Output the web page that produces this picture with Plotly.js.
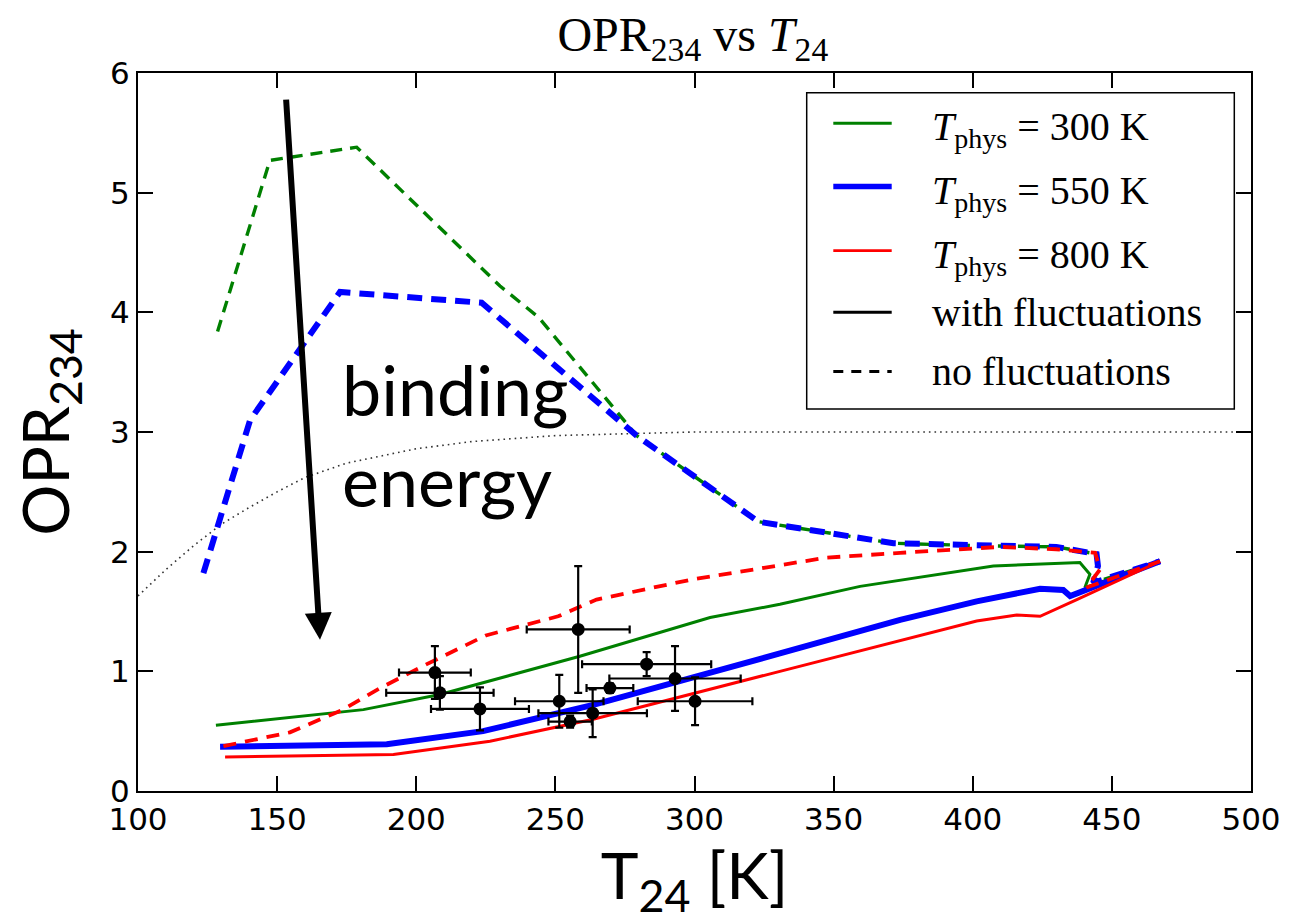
<!DOCTYPE html>
<html>
<head>
<meta charset="utf-8">
<script src="https://cdn.plot.ly/plotly-3.0.1.min.js"></script>
<style>html,body{margin:0;padding:0;background:#fff;}#chart{width:1295px;height:922px;}</style>
</head>
<body>
<div id="chart"></div>
<script>
// ---- data ----
// with fluctuations (solid)
const g300_x = [128, 181, 208.5, 258.8, 305.6, 330.7, 359.5, 401.4, 407.4, 438.5, 442.1, 440.3, 467.3];
const g300_y = [0.55, 0.68, 0.806, 1.126, 1.45, 1.56, 1.71, 1.86, 1.88, 1.91, 1.81, 1.70, 1.92];
const b550_x = [129.5, 189.4, 224, 263.6, 330.7, 373.9, 401.4, 424.2, 432.5, 435, 467.3];
const b550_y = [0.37, 0.39, 0.50, 0.72, 1.15, 1.43, 1.585, 1.69, 1.68, 1.63, 1.92];
const r800_x = [131.3, 191.8, 226.5, 263.6, 330.7, 401.4, 415.8, 424.2, 437.4, 467.3];
const r800_y = [0.285, 0.305, 0.416, 0.60, 1.0, 1.42, 1.47, 1.46, 1.6, 1.92];
// no fluctuations (dashed)
const g300d_x = [128.6, 147.4, 178.6, 230.1, 243.9, 279.2, 323, 371.5, 401.4, 430, 444.5, 445, 443.3, 467.3];
const g300d_y = [3.84, 5.27, 5.38, 4.22, 3.96, 2.97, 2.25, 2.07, 2.05, 2.04, 1.98, 1.88, 1.74, 1.92];
const b550d_x = [123.5, 140.3, 172.6, 223.5, 279.2, 323, 371.5, 401.4, 430, 444.5, 445, 443.3, 467.3];
const b550d_y = [1.82, 3.10, 4.17, 4.08, 2.97, 2.25, 2.07, 2.05, 2.04, 1.98, 1.88, 1.74, 1.92];
const r800d_x = [130.7, 154.6, 173.7, 187, 203.8, 225, 251, 264.8, 299.6, 347.5, 373.9, 409.8, 430, 444, 445.7, 440.9, 467.3];
const r800d_y = [0.375, 0.49, 0.68, 0.86, 1.06, 1.30, 1.46, 1.6, 1.77, 1.95, 1.99, 2.04, 2.02, 1.99, 1.85, 1.70, 1.92];
// dotted reference curve
const dot_x = [100, 110, 120, 130, 140, 150, 160, 175, 200, 220, 250, 280, 300, 500];
const dot_y = [1.63, 1.85, 2.05, 2.23, 2.37, 2.50, 2.62, 2.74, 2.86, 2.92, 2.97, 2.99, 3.0, 3.0];
// observations
const obs_x  = [206.7, 208.5, 222.9, 251.4, 255.3, 258.2, 263.4, 269.6, 282.8, 293.0, 300.2];
const obs_y  = [0.99, 0.82, 0.686, 0.75, 0.58, 1.35, 0.65, 0.86, 1.06, 0.94, 0.75];
const obs_ex = [12.9, 19.3, 17.6, 15.9, 7.8, 18.5, 19.5, 8.4, 23.2, 23.6, 20.6];
const obs_ey = [0.22, 0.14, 0.18, 0.22, 0.05, 0.53, 0.20, 0.04, 0.10, 0.27, 0.20];
// arrow (binding energy)
const arrow_from = [153.2, 5.79];
const arrow_to = [165.4, 1.264];
// ticks
const xTicks = [100, 150, 200, 250, 300, 350, 400, 450, 500];
const yTicks = [0, 1, 2, 3, 4, 5, 6];
// legend
const legendLabels = ['<i>T</i><sub>phys</sub> = 300 K', '<i>T</i><sub>phys</sub> = 550 K', '<i>T</i><sub>phys</sub> = 800 K', 'with fluctuations', 'no fluctuations'];
const legendColors = ['#008000', '#0000ff', '#ff0000', '#000000', '#000000'];
const legendWidths = [2.8, 5.5, 2.8, 3, 3];
const legendDash = ['solid', 'solid', 'solid', 'solid', 'dash'];

const GREEN = '#008000', BLUE = '#0000ff', RED = '#ff0000';

const traces = [
  {x: dot_x, y: dot_y, mode: 'lines', line: {color: '#333', width: 1.6, dash: '1.6px,4px'}, showlegend: false, hoverinfo: 'skip'},
  {x: g300_x, y: g300_y, mode: 'lines', line: {color: GREEN, width: 3}, showlegend: false},
  {x: g300d_x, y: g300d_y, mode: 'lines', line: {color: GREEN, width: 3.4, dash: '12px,8px'}, showlegend: false},
  {x: b550_x, y: b550_y, mode: 'lines', line: {color: BLUE, width: 6}, showlegend: false},
  {x: b550d_x, y: b550d_y, mode: 'lines', line: {color: BLUE, width: 6, dash: '15px,9px'}, showlegend: false},
  {x: r800_x, y: r800_y, mode: 'lines', line: {color: RED, width: 3}, showlegend: false},
  {x: r800d_x, y: r800d_y, mode: 'lines', line: {color: RED, width: 3.8, dash: '13px,9px'}, showlegend: false},
  {x: obs_x, y: obs_y, mode: 'markers', marker: {color: 'black', size: 13},
   error_x: {type: 'data', array: obs_ex, visible: true, color: 'black', thickness: 2.2, width: 4},
   error_y: {type: 'data', array: obs_ey, visible: true, color: 'black', thickness: 2.2, width: 4},
   showlegend: false}
];

// custom legend (paper coordinates)
const pxX = p => (p - 138) / 1113;
const pxY = p => (791.5 - p) / 718.5;
const rowY = [123.3, 186.7, 250.7, 312.3, 371.7];
const shapes = [
  {type: 'rect', xref: 'paper', yref: 'paper', x0: pxX(806.7), x1: pxX(1234.3), y0: pxY(409.3), y1: pxY(92.7),
   line: {color: 'black', width: 1.5}, fillcolor: 'white', layer: 'above'}
];
const annotations = [];
legendLabels.forEach((lab, i) => {
  shapes.push({type: 'line', xref: 'paper', yref: 'paper', x0: pxX(833.3), x1: pxX(891.7), y0: pxY(rowY[i]), y1: pxY(rowY[i]),
    line: {color: legendColors[i], width: legendWidths[i], dash: legendDash[i] === 'dash' ? '10px,8px' : 'solid'}, layer: 'above'});
  annotations.push({xref: 'paper', yref: 'paper', x: pxX(930), y: pxY(rowY[i] + (i < 3 ? 6 : 0)), xanchor: 'left', yanchor: 'middle',
    text: lab, showarrow: false, font: {family: 'Liberation Serif, serif', size: 40, color: 'black'}});
});
annotations.push({x: arrow_to[0], y: arrow_to[1], ax: arrow_from[0], ay: arrow_from[1], axref: 'x', ayref: 'y', xref: 'x', yref: 'y',
  text: '', showarrow: true, arrowhead: 2, arrowsize: 0.9, arrowwidth: 6, arrowcolor: 'black', standoff: 0, startstandoff: 0});
annotations.push({x: 172.6, y: 2.98, xref: 'x', yref: 'y', xanchor: 'left', yanchor: 'middle', align: 'left',
  text: 'binding<br>energy', showarrow: false, font: {family: 'Lato, sans-serif', size: 70, color: 'black'}});

const layout = {
  width: 1295, height: 922,
  paper_bgcolor: 'white', plot_bgcolor: 'white',
  margin: {l: 138, r: 44, t: 73, b: 131},
  showlegend: false,
  title: {text: 'OPR<sub>234</sub> vs <i>T</i><sub>24</sub>', font: {family: 'Liberation Serif, serif', size: 48, color: 'black'},
          x: 0.535, xanchor: 'center', y: 0.963, yanchor: 'middle', yref: 'container'},
  xaxis: {range: [100, 500], tickvals: xTicks, ticktext: xTicks.map(String), ticks: 'inside', ticklen: 15, tickwidth: 2, tickcolor: 'black',
          showline: true, linecolor: 'black', linewidth: 2, mirror: 'ticks', showgrid: false, zeroline: false,
          tickfont: {family: 'DejaVu Sans, sans-serif', size: 31, color: 'black'},
          title: {text: 'T<sub>24</sub> [K]', font: {family: 'Lato, sans-serif', size: 64, color: 'black'}, standoff: 10}},
  yaxis: {range: [0, 6], tickvals: yTicks, ticktext: yTicks.map(String), ticks: 'inside', ticklen: 15, tickwidth: 2, tickcolor: 'black',
          showline: true, linecolor: 'black', linewidth: 2, mirror: 'ticks', showgrid: false, zeroline: false,
          tickfont: {family: 'DejaVu Sans, sans-serif', size: 31, color: 'black'},
          title: {text: 'OPR<sub>234</sub>', font: {family: 'Lato, sans-serif', size: 64, color: 'black'}, standoff: 20}},
  shapes: shapes,
  annotations: annotations
};

Plotly.newPlot('chart', traces, layout, {displayModeBar: false, staticPlot: true});
</script>
</body>
</html>
